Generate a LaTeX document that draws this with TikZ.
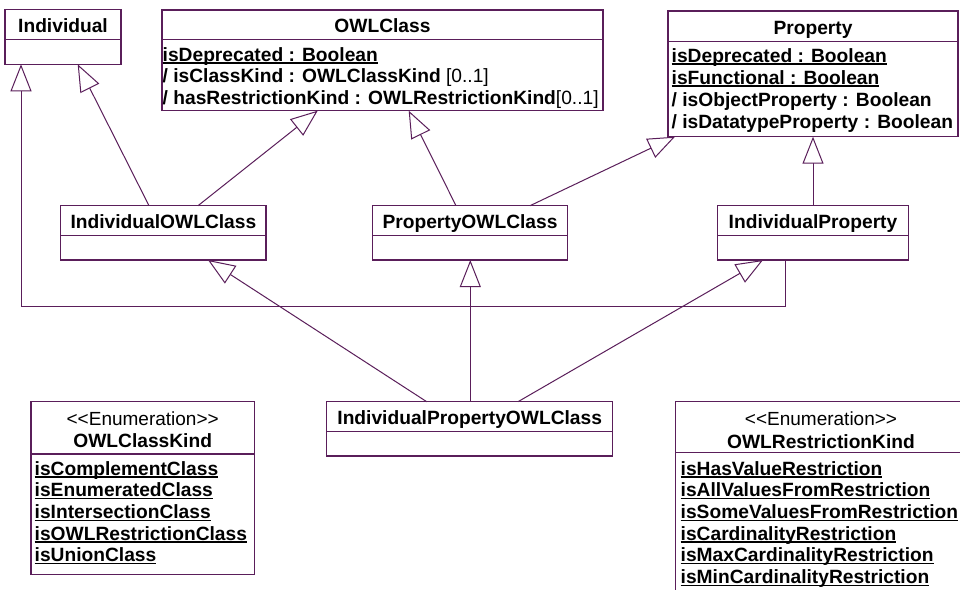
\documentclass[tikz,border=0pt]{standalone}
\usepackage{fontspec}
\setmainfont{Liberation Sans}
\usetikzlibrary{arrows.meta,calc}
\definecolor{umlline}{RGB}{90,30,90}
\newcommand\ulin[1]{\setbox0\hbox{#1}\rlap{\rule[-2.6pt]{\wd0}{1.4pt}}\box0}
\newcommand\enumstereo{<\kern0pt<Enumeration>\kern0pt>}
\begin{document}
\begin{tikzpicture}[x=1pt,y=-1pt,
  box/.style={draw=umlline,line width=1.3pt,inner sep=0pt,outer sep=0pt,anchor=north west},
  sepline/.style={draw=umlline,line width=1.3pt},
  gen/.style={draw=umlline,line width=1pt,-{Triangle[open,length=27pt,width=21pt,fill=white]}},
  ttl/.style={font=\fontsize{19.2pt}{22pt}\selectfont\bfseries,anchor=base,inner sep=0pt},
  attr/.style={font=\fontsize{19.2pt}{22pt}\selectfont\bfseries,anchor=base west,inner sep=0pt},
  stereo/.style={font=\fontsize{19pt}{22pt}\selectfont,anchor=base,inner sep=0pt}]
\clip (0,0) rectangle (960,589);
\fill[white] (0,0) rectangle (960,589);

% Individual
\node[box,minimum width=116pt,minimum height=55pt] (ind) at (5,9.3) {};
\draw[sepline] ($(ind.north west)+(0,30)$) -- ($(ind.north east)+(0,30)$);
\node[ttl] (indT) at (63,32.3) {Individual};

% OWLClass
\node[box,minimum width=441pt,minimum height=100.7pt] (owl) at (162,10) {};
\draw[sepline] ($(owl.north west)+(0,29.5)$) -- ($(owl.north east)+(0,29.5)$);
\node[ttl] (owlT) at (382.5,32) {OWLClass};
\node[attr] (owlA1) at (162.5,61) {\ulin{isDeprecated : Boolean}};
\node[attr] (owlA2) at (162.5,82.7) {/ isClassKind : OWLClassKind \mdseries[0..1]};
\node[attr] (owlA3) at (162.5,104.4) {/ hasRestrictionKind : OWLRestrictionKind\mdseries[0..1]};

% Property
\node[box,minimum width=290pt,minimum height=125.7pt] (prop) at (668,11) {};
\draw[sepline] ($(prop.north west)+(0,30.7)$) -- ($(prop.north east)+(0,30.7)$);
\node[ttl] (propT) at (813,34) {Property};
\node[attr] (propA1) at (671.5,62) {\ulin{isDeprecated : Boolean}};
\node[attr] (propA2) at (671.5,84) {\ulin{isFunctional : Boolean}};
\node[attr] (propA3) at (671.5,106) {/ isObjectProperty : Boolean};
\node[attr] (propA4) at (671.5,128) {/ isDatatypeProperty : Boolean};

% IndividualOWLClass
\node[box,minimum width=205.3pt,minimum height=54.3pt] (iowl) at (60.7,205.7) {};
\draw[sepline] ($(iowl.north west)+(0,30)$) -- ($(iowl.north east)+(0,30)$);
\node[ttl] (iowlT) at (163.4,228.3) {IndividualOWLClass};

% PropertyOWLClass
\node[box,minimum width=194.6pt,minimum height=54.3pt] (powl) at (372.7,205.7) {};
\draw[sepline] ($(powl.north west)+(0,30)$) -- ($(powl.north east)+(0,30)$);
\node[ttl] (powlT) at (470,228.3) {PropertyOWLClass};

% IndividualProperty
\node[box,minimum width=191.4pt,minimum height=54.3pt] (iprop) at (717.3,205.7) {};
\draw[sepline] ($(iprop.north west)+(0,30)$) -- ($(iprop.north east)+(0,30)$);
\node[ttl] (ipropT) at (813,228.3) {IndividualProperty};

% IndividualPropertyOWLClass
\node[box,minimum width=286pt,minimum height=54.3pt] (ipowl) at (326.7,401.7) {};
\draw[sepline] ($(ipowl.north west)+(0,30)$) -- ($(ipowl.north east)+(0,30)$);
\node[ttl] (ipowlT) at (469.7,424.3) {IndividualPropertyOWLClass};

% OWLClassKind
\node[box,minimum width=223.3pt,minimum height=172.6pt] (ock) at (31,401.7) {};
\draw[sepline] ($(ock.north west)+(0,52.3)$) -- ($(ock.north east)+(0,52.3)$);
\node[stereo] (ockS) at (142.7,425) {\enumstereo};
\node[ttl] (ockT) at (142.7,447.7) {OWLClassKind};
\node[attr] (ock1) at (34.5,475) {\ulin{isComplementClass}};
\node[attr] (ock2) at (34.5,496.7) {\ulin{isEnumeratedClass}};
\node[attr] (ock3) at (34.5,518.4) {\ulin{isIntersectionClass}};
\node[attr] (ock4) at (34.5,540.1) {\ulin{isOWLRestrictionClass}};
\node[attr] (ock5) at (34.5,561.8) {\ulin{isUnionClass}};

% OWLRestrictionKind
\node[box,minimum width=290pt,minimum height=200pt] (ork) at (675.7,401.7) {};
\draw[sepline] ($(ork.north west)+(0,51)$) -- ($(ork.north east)+(0,51)$);
\node[stereo] (orkS) at (821,425) {\enumstereo};
\node[ttl] (orkT) at (821,448.3) {OWLRestrictionKind};
\node[attr] (ork1) at (680.5,475) {\ulin{isHasValueRestriction}};
\node[attr] (ork2) at (680.5,496.7) {\ulin{isAllValuesFromRestriction}};
\node[attr] (ork3) at (680.5,518.4) {\ulin{isSomeValuesFromRestriction}};
\node[attr] (ork4) at (680.5,540.1) {\ulin{isCardinalityRestriction}};
\node[attr] (ork5) at (680.5,561.8) {\ulin{isMaxCardinalityRestriction}};
\node[attr] (ork6) at (680.5,583.5) {\ulin{isMinCardinalityRestriction}};

% Generalizations
\draw[gen] ($(iowl.north west)+(88.3,0)$) -- ($(ind.south west)+(72.7,0)$);
\draw[gen] ($(iowl.north west)+(137.3,0)$) -- ($(owl.south west)+(155.7,0)$);
\draw[gen] ($(powl.north west)+(83.3,0)$) -- ($(owl.south west)+(246.7,0)$);
\draw[gen] ($(powl.north west)+(157.3,0)$) -- ($(prop.south west)+(7,0)$);
\draw[gen] (iprop.north) -- (prop.south);
\draw[gen] ($(iprop.south west)+(67.7,0)$) -- ++(0,46) -| ($(ind.south west)+(16,0)$);
\draw[gen] ($(ipowl.north west)+(100,0)$) -- ($(iowl.south west)+(147.3,0)$);
\draw[gen] ($(ipowl.north west)+(143.6,0)$) -- ($(powl.south west)+(97.6,0)$);
\draw[gen] ($(ipowl.north west)+(191.3,0)$) -- ($(iprop.south west)+(45.7,0)$);
\end{tikzpicture}
\end{document}
